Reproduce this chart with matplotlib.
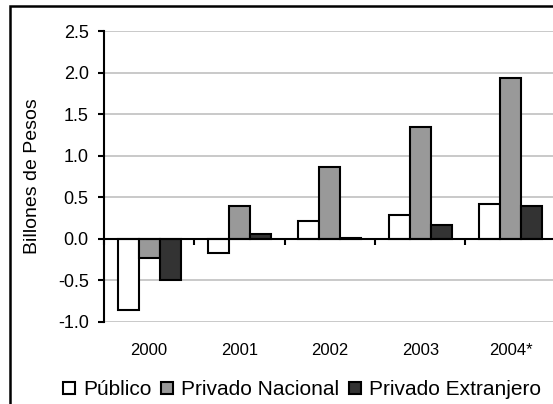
import matplotlib
matplotlib.use("Agg")
import matplotlib.pyplot as plt
import numpy as np
from matplotlib.patches import Rectangle

# balance by sector, billions of pesos
years = ['2000', '2001', '2002', '2003', '2004*']
publico = [-0.85, -0.17, 0.22, 0.29, 0.42]
privado_nacional = [-0.23, 0.39, 0.87, 1.35, 1.93]
privado_extranjero = [-0.50, 0.06, 0.01, 0.17, 0.39]
series_names = ['Público', 'Privado Nacional', 'Privado Extranjero']
y_ticks = [-1.0, -0.5, 0.0, 0.5, 1.0, 1.5, 2.0, 2.5]

plt.rcParams['font.family'] = ['Liberation Sans', 'DejaVu Sans']

fig = plt.figure(figsize=(5.53, 4.04), dpi=100)
ax = fig.add_axes([0.188, 0.203, 0.817, 0.720])

x = np.arange(len(years))
w = 0.232
colors = ['white', '#999999', '#333333']
for i, (vals, c, name) in enumerate(zip([publico, privado_nacional, privado_extranjero], colors, series_names)):
    ax.bar(x + (i - 1) * w, vals, w, color=c, edgecolor='black', linewidth=1.5, label=name, zorder=3)

ax.set_xlim(-0.5, len(years) - 0.5)
ax.set_ylim(-1.0, 2.5)
ax.set_yticks(y_ticks)
ax.set_yticklabels([f'{t:.1f}' for t in y_ticks], fontsize=13)
ax.yaxis.grid(True, color='#c0c0c0', linewidth=1.2, zorder=0)
ax.tick_params(axis='y', direction='out', length=4, width=1.5, pad=7)
ax.set_ylabel('Billones de Pesos', fontsize=14, labelpad=12)

for s in ['top', 'right']:
    ax.spines[s].set_visible(False)
ax.spines['left'].set_linewidth(1.5)
ax.spines['bottom'].set_position(('data', 0))
ax.spines['bottom'].set_linewidth(1.5)
ax.spines['bottom'].set_zorder(4)
ax.set_xticks(np.arange(len(years) + 1) - 0.5)
ax.set_xticklabels([])
ax.tick_params(axis='x', direction='out', length=4, width=1.5)

# category labels under the plot area
sec = ax.secondary_xaxis('bottom')
sec.set_xticks(x)
sec.set_xticklabels(years, fontsize=12)
sec.tick_params(length=0, pad=15)
sec.spines['bottom'].set_visible(False)

fig.legend(loc='center', bbox_to_anchor=(0.546, 0.035), ncol=3, frameon=False,
           handlelength=0.58, handleheight=0.58, handletextpad=0.4,
           columnspacing=0.45, fontsize=15)

# outer frame around the chart
fig.patches.append(Rectangle((10 / 553, -0.05), 1.1, 1 - 6 / 404 + 0.05,
                             transform=fig.transFigure, fill=False,
                             edgecolor='black', linewidth=1.8))

fig.savefig('out.png', dpi=100)
